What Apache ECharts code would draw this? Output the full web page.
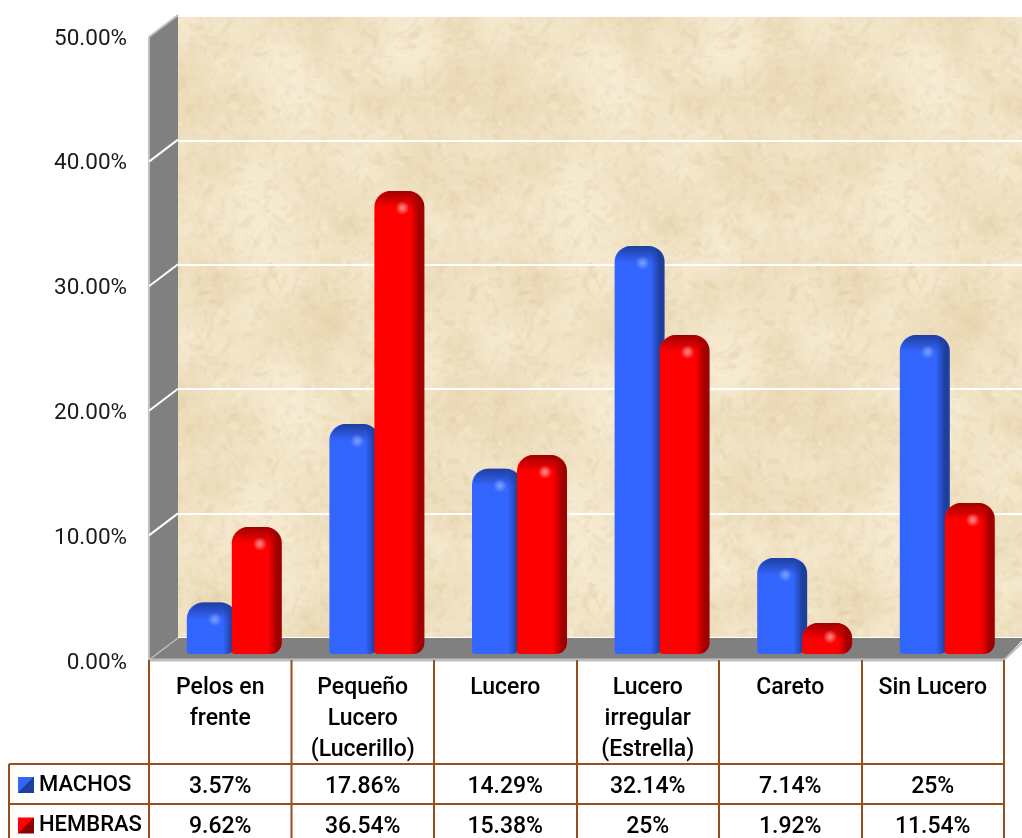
<!DOCTYPE html>
<html><head><meta charset="utf-8">
<style>html,body{margin:0;padding:0;background:#fff}#c{width:1022px;height:838px}</style>
<script src="https://cdn.jsdelivr.net/npm/echarts@6/dist/echarts.min.js"></script>
</head><body><div id="c"></div>
<script>
const categories = ['Pelos en\nfrente','Pequeño\nLucero\n(Lucerillo)','Lucero','Lucero\nirregular\n(Estrella)','Careto','Sin Lucero'];
const machos = [3.57,17.86,14.29,32.14,7.14,25];
const hembras = [9.62,36.54,15.38,25,1.92,11.54];
const machosLabels = ['3.57%','17.86%','14.29%','32.14%','7.14%','25%'];
const hembrasLabels = ['9.62%','36.54%','15.38%','25%','1.92%','11.54%'];
const ticks = [0,10,20,30,40,50];

const FONT = 'Roboto';
const BROWN = '#974F1C';

function texture(){
  const S=320;
  const cv=document.createElement('canvas');cv.width=cv.height=S;
  const g=cv.getContext('2d');
  g.fillStyle='#F1E3C5';g.fillRect(0,0,S,S);
  let s=12345;const r=()=>(s=(s*16807)%2147483647)/2147483647;
  const blob=(x0,y0,rad,c,a)=>{
    [-S,0,S].forEach(dx=>[-S,0,S].forEach(dy=>{
      const x=x0+dx,y=y0+dy;
      if(x+rad<0||x-rad>S||y+rad<0||y-rad>S) return;
      const gr=g.createRadialGradient(x,y,0,x,y,rad);
      gr.addColorStop(0,'rgba('+c+','+a+')');gr.addColorStop(1,'rgba('+c+',0)');
      g.fillStyle=gr;g.fillRect(x-rad,y-rad,rad*2,rad*2);
    }));
  };
  for(let i=0;i<70;i++) blob(r()*S,r()*S,20+r()*35,i%2?'226,204,160':'250,240,218',0.35);
  const tones=['222,200,156','250,241,220','232,214,176','246,233,206'];
  for(let i=0;i<3000;i++){
    const x=r()*S,y=r()*S,w=2+r()*7,h=1+r()*2.5,a=r()*3.14;
    g.fillStyle='rgba('+tones[i%4]+','+(0.08+r()*0.14)+')';
    g.beginPath();g.ellipse(x,y,w,h,a,0,6.29);g.fill();
  }
  return cv;
}

function barItem(offset, main, dark, light){
  return function(params, api){
    const i=api.value(0), v=api.value(1);
    const p=api.coord([i,v]), base=api.coord([i,0]);
    const w=50, x=p[0]+offset-w/2, y=p[1], b=base[1]+7, h=b-y;
    const r=Math.min(16,h/2);
    return {type:'group',children:[
      {type:'rect',shape:{x,y,width:w,height:h,r:[r,r,11,3]},
       style:{fill:{type:'linear',x:0,y:0,x2:1,y2:0,colorStops:[
         {offset:0,color:main},{offset:0.72,color:main},{offset:0.9,color:dark},{offset:1,color:dark}]}}},
      {type:'rect',shape:{x:x+1,y,width:w-2,height:Math.min(17,h*0.55),r:[r,r,0,0]},
       style:{fill:{type:'linear',x:0,y:0,x2:0,y2:1,colorStops:[
         {offset:0,color:dark},{offset:0.35,color:dark+'AA'},{offset:1,color:dark+'00'}]}}},
      {type:'circle',shape:{cx:x+28,cy:y+Math.min(17,h*0.45),r:7},
       style:{fill:{type:'radial',x:0.5,y:0.5,r:0.5,colorStops:[
         {offset:0,color:light},{offset:0.35,color:light+'AA'},{offset:1,color:light+'00'}]}}}
    ]};
  };
}

const swatch=(lo,hi)=>({type:'linear',x:0,y:0,x2:1,y2:1,colorStops:[
  {offset:0,color:hi},{offset:0.5,color:hi},{offset:0.5,color:lo},{offset:1,color:lo}]});

const gfx=[];
const poly=(pts,fill,z)=>gfx.push({type:'polygon',shape:{points:pts},style:{fill},z,silent:true});
const line=(x1,y1,x2,y2,stroke,lw,z)=>gfx.push({type:'line',shape:{x1,y1,x2,y2},style:{stroke,lineWidth:lw},z,silent:true});
// walls
poly([[149,37],[178,16],[178,638],[149,660]],'#808080',1);
poly([[178,638],[1024,638],[1004,660],[149,660]],'#808080',1);
line(149,37,178,15,'#BEBEBE',2,1);
line(149,37,149,660,'#BEBEBE',2,1);
line(149,660,178,638,'#BEBEBE',1.5,1);
line(149,660,1004,660,'#BEBEBE',3,1);
line(1004,660,1024,641,'#BEBEBE',2,1);
ticks.slice(1,5).forEach((t,k)=>{const dy=(k+1)*124.6;line(149,660-dy,178,638-dy,'#fff',2,1);});
// table
[149,291.5,434,577,719,862,1004].forEach(x=>line(x,660,x,838,BROWN,2,3));
line(9,764,9,838,BROWN,2,3);
line(9,764,1004,764,BROWN,2,3);
line(9,804,1004,804,BROWN,2,3);

const dataX=(data,margin)=>({type:'category',gridIndex:0,data,position:'bottom',
  axisLine:{show:false},axisTick:{show:false},
  axisLabel:{show:true,interval:0,margin,fontFamily:FONT,fontWeight:500,fontSize:23,lineHeight:31,color:'#000',verticalAlign:'top'}});
const hiddenX=(g)=>({type:'category',gridIndex:g,data:categories,show:false});

const chart=echarts.init(document.getElementById('c'),null,{renderer:'canvas',width:1022,height:838});
chart.setOption({
  animation:false,
  backgroundColor:'#fff',
  grid:[
    {left:149,width:855,top:39,height:624,outerBoundsMode:'none'},
    {left:178,width:870,top:16,height:622,outerBoundsMode:'none',show:true,borderWidth:0,backgroundColor:{image:texture(),repeat:'repeat'}},
    {left:163,width:855.6,top:23,height:624,outerBoundsMode:'none'}
  ],
  xAxis:[
    dataX(categories,10),
    dataX(machosLabels,108.5),
    dataX(hembrasLabels,148.5),
    hiddenX(1),
    hiddenX(2)
  ],
  yAxis:[
    {type:'value',gridIndex:0,min:0,max:50,interval:10,splitLine:{show:false},axisLine:{show:false},axisTick:{show:false},
     axisLabel:{margin:22,fontFamily:FONT,fontSize:22.5,color:'#1a1a1a',formatter:v=>v.toFixed(2)+'%'}},
    {type:'value',gridIndex:1,min:0,max:50,interval:10,axisLine:{show:false},axisTick:{show:false},axisLabel:{show:false},
     splitLine:{show:true,lineStyle:{color:'#fff',width:2,opacity:0.95}}},
    {type:'value',gridIndex:2,min:0,max:50,show:false,splitLine:{show:false}}
  ],
  legend:{orient:'vertical',left:18,top:774,itemWidth:16,itemHeight:16,itemGap:18.5,padding:0,selectedMode:false,
    textStyle:{fontFamily:FONT,fontWeight:500,fontSize:22,color:'#000'},
    data:[
      {name:'MACHOS',icon:'rect',itemStyle:{color:swatch('#1F3F9F','#3366FF')}},
      {name:'HEMBRAS',icon:'rect',itemStyle:{color:swatch('#8B0000','#FF0000')}}
    ]},
  graphic:{elements:gfx},
  series:[
    {name:'MACHOS',type:'custom',xAxisIndex:4,yAxisIndex:2,clip:false,z:5,
     itemStyle:{color:'#3366FF'},encode:{x:0,y:1},
     renderItem:barItem(-22.5,'#3366FF','#1F3F9F','#7F9FFF'),
     data:machos.map((v,i)=>[i,v])},
    {name:'HEMBRAS',type:'custom',xAxisIndex:4,yAxisIndex:2,clip:false,z:6,
     itemStyle:{color:'#FF0000'},encode:{x:0,y:1},
     renderItem:barItem(22.5,'#FF0000','#A00000','#FF9090'),
     data:hembras.map((v,i)=>[i,v])}
  ]
});
</script></body></html>
